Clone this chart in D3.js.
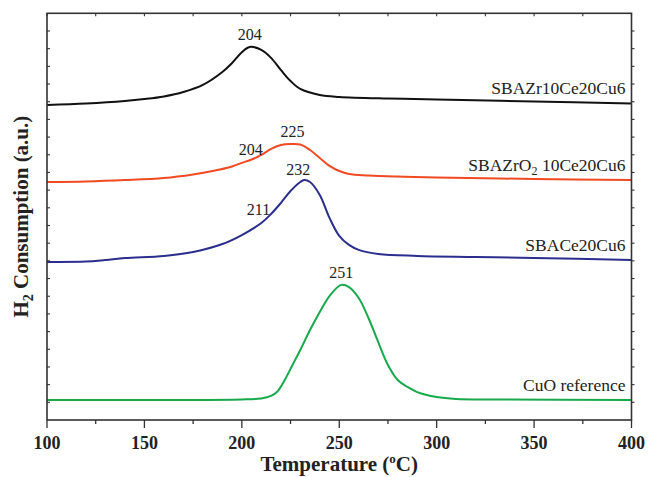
<!DOCTYPE html>
<html>
<head>
<meta charset="utf-8">
<script src="https://cdn.jsdelivr.net/npm/d3@7/dist/d3.min.js"></script>
<style>
  html, body { margin: 0; padding: 0; background: #fff; }
  svg { display: block; }
  text { font-family: "Liberation Serif", "Times New Roman", Times, serif; fill: #222; }
</style>
</head>
<body>
<svg id="chart" width="648" height="477"></svg>
<script>
// H2-TPR profiles: temperature (°C) vs. H2 consumption (a.u., stacked offsets)
const temps_Zr = [100, 120, 140, 150, 160, 170, 180, 190, 195, 200, 204, 210, 215, 220, 225, 230, 240, 250, 275, 300, 350, 400];
const vals_Zr  = [17.82, 17.90, 18.04, 18.15, 18.30, 18.55, 18.95, 19.68, 20.19, 20.80, 21.10, 20.93, 20.48, 19.80, 19.17, 18.72, 18.38, 18.27, 18.18, 18.13, 18.01, 17.90];

const temps_ZrO2 = [100, 120, 140, 160, 175, 185, 195, 200, 205, 210, 215, 220, 225, 230, 235, 240, 245, 250, 255, 265, 280, 300, 350, 400];
const vals_ZrO2  = [13.46, 13.49, 13.57, 13.69, 13.89, 14.08, 14.34, 14.54, 14.73, 14.99, 15.33, 15.55, 15.61, 15.58, 15.27, 14.82, 14.37, 14.08, 13.91, 13.83, 13.77, 13.72, 13.63, 13.57];

const temps_Ce = [100, 120, 130, 140, 160, 175, 190, 200, 210, 215, 220, 225, 230, 232, 235, 240, 245, 250, 255, 260, 270, 290, 320, 350, 400];
const vals_Ce  = [8.94, 8.96, 9.05, 9.16, 9.28, 9.50, 9.95, 10.46, 11.14, 11.65, 12.27, 12.95, 13.46, 13.57, 13.46, 12.73, 11.43, 10.41, 9.90, 9.62, 9.39, 9.28, 9.22, 9.16, 9.05];

const temps_CuO = [100, 150, 200, 210, 215, 218, 222, 226, 230, 235, 240, 245, 251, 255, 260, 265, 270, 275, 280, 285, 290, 300, 310, 330, 400];
const vals_CuO  = [1.13, 1.13, 1.16, 1.22, 1.36, 1.58, 2.26, 3.11, 3.96, 5.09, 6.11, 7.01, 7.64, 7.52, 6.90, 5.77, 4.41, 3.11, 2.26, 1.87, 1.58, 1.30, 1.19, 1.16, 1.13];

const seriesNames  = ["SBAZr10Ce20Cu6", "SBAZrO2 10Ce20Cu6", "SBACe20Cu6", "CuO reference"];
const seriesColors = ["#111111", "#f04a23", "#2b2e8c", "#18a94c"];

// peak / shoulder temperatures annotated on each profile
const peakSeries = [0, 1, 1, 2, 2, 3];
const peakTemps  = [204, 204, 225, 211, 232, 251];

const xTicks = [100, 150, 200, 250, 300, 350, 400];

const series = [
  { name: seriesNames[0], color: seriesColors[0], t: temps_Zr,   v: vals_Zr },
  { name: seriesNames[1], color: seriesColors[1], t: temps_ZrO2, v: vals_ZrO2 },
  { name: seriesNames[2], color: seriesColors[2], t: temps_Ce,   v: vals_Ce },
  { name: seriesNames[3], color: seriesColors[3], t: temps_CuO,  v: vals_CuO }
];

const svg = d3.select("#chart");
const m = { left: 47, right: 16.5, top: 13.3, bottom: 57 };
const W = 648, H = 477;
const x = d3.scaleLinear().domain([100, 400]).range([m.left, W - m.right]);
const y = d3.scaleLinear().domain([0, 23]).range([H - m.bottom, m.top]);

const axisColor = "#333";

// curves
const line = d3.line().x(d => x(d[0])).y(d => y(d[1])).curve(d3.curveCatmullRom.alpha(0.5));
series.forEach(s => {
  const pts = s.t.map((t, i) => [t, s.v[i]]);
  svg.append("path")
    .datum(pts)
    .attr("fill", "none")
    .attr("stroke", s.color)
    .attr("stroke-width", 2)
    .attr("stroke-linejoin", "round")
    .attr("d", line);
});

// frame
svg.append("rect")
  .attr("x", x(100)).attr("y", y(23))
  .attr("width", x(400) - x(100)).attr("height", y(0) - y(23))
  .attr("fill", "none").attr("stroke", axisColor).attr("stroke-width", 1.6);

// bottom axis: major ticks every 50, minor every 25, outward
const xMinor = d3.range(100, 401, 25);
const bottom = svg.append("g").attr("transform", `translate(0,${y(0)})`);
bottom.selectAll("line.tk").data(xMinor).join("line")
  .attr("x1", d => x(d)).attr("x2", d => x(d))
  .attr("y1", 0).attr("y2", d => (d % 50 === 0 ? 8 : 4))
  .attr("stroke", axisColor).attr("stroke-width", 1.3);
bottom.selectAll("text").data(xTicks).join("text")
  .attr("x", d => x(d)).attr("y", 29)
  .attr("text-anchor", "middle")
  .attr("font-size", 18).attr("font-weight", "bold")
  .text(d => d);

// top axis: small inward ticks
svg.append("g").selectAll("line").data(xMinor).join("line")
  .attr("x1", d => x(d)).attr("x2", d => x(d))
  .attr("y1", y(23)).attr("y2", y(23) + 3)
  .attr("stroke", axisColor).attr("stroke-width", 1.1);

// left (inward) and right (outward) unlabeled ticks
const yMinor = d3.range(1, 23);
svg.append("g").selectAll("line").data(yMinor).join("line")
  .attr("x1", x(100)).attr("x2", x(100) + 3)
  .attr("y1", d => y(d)).attr("y2", d => y(d))
  .attr("stroke", axisColor).attr("stroke-width", 1.1);
svg.append("g").selectAll("line").data(yMinor).join("line")
  .attr("x1", x(400)).attr("x2", x(400) + 3)
  .attr("y1", d => y(d)).attr("y2", d => y(d))
  .attr("stroke", axisColor).attr("stroke-width", 1.1);

// axis titles
const xt = svg.append("text")
  .attr("x", (x(100) + x(400)) / 2).attr("y", 471)
  .attr("text-anchor", "middle")
  .attr("font-size", 21).attr("font-weight", "bold");
xt.append("tspan").text("Temperature (");
xt.append("tspan").attr("font-size", 13).attr("dy", -8).text("o");
xt.append("tspan").attr("dy", 8).text("C)");

const yt = svg.append("text")
  .attr("transform", `translate(28,${(y(0) + y(23)) / 2}) rotate(-90)`)
  .attr("text-anchor", "middle")
  .attr("font-size", 21).attr("font-weight", "bold");
yt.append("tspan").text("H");
yt.append("tspan").attr("font-size", 14).attr("dy", 5).text("2");
yt.append("tspan").attr("dy", -5).text(" Consumption (a.u.)");

// series names at the right end of each profile
series.forEach((s, i) => {
  const last = s.v[s.v.length - 1];
  const t = svg.append("text")
    .attr("x", x(400) - 6).attr("y", y(last) - 9)
    .attr("text-anchor", "end")
    .attr("font-size", 17.5);
  if (i === 1) {
    t.append("tspan").text("SBAZrO");
    t.append("tspan").attr("font-size", 12).attr("dy", 4).text("2");
    t.append("tspan").attr("dy", -4).text(" 10Ce20Cu6");
  } else {
    t.text(s.name);
  }
});

// peak labels
function valueAt(s, t) {
  const i = d3.bisectLeft(s.t, t);
  if (s.t[i] === t) return s.v[i];
  const t0 = s.t[i - 1], t1 = s.t[i];
  return s.v[i - 1] + (s.v[i] - s.v[i - 1]) * (t - t0) / (t1 - t0);
}
const labelShift = [[0, -7], [13, -5], [2, -7], [7, -6], [-6, -5], [0, -7]];
peakTemps.forEach((t, k) => {
  const s = series[peakSeries[k]];
  const isShoulder = (k === 1 || k === 3);
  svg.append("text")
    .attr("x", x(t) + labelShift[k][0])
    .attr("y", y(valueAt(s, t)) + labelShift[k][1])
    .attr("text-anchor", isShoulder ? "end" : "middle")
    .attr("font-size", 16)
    .text(t);
});
</script>
</body>
</html>
